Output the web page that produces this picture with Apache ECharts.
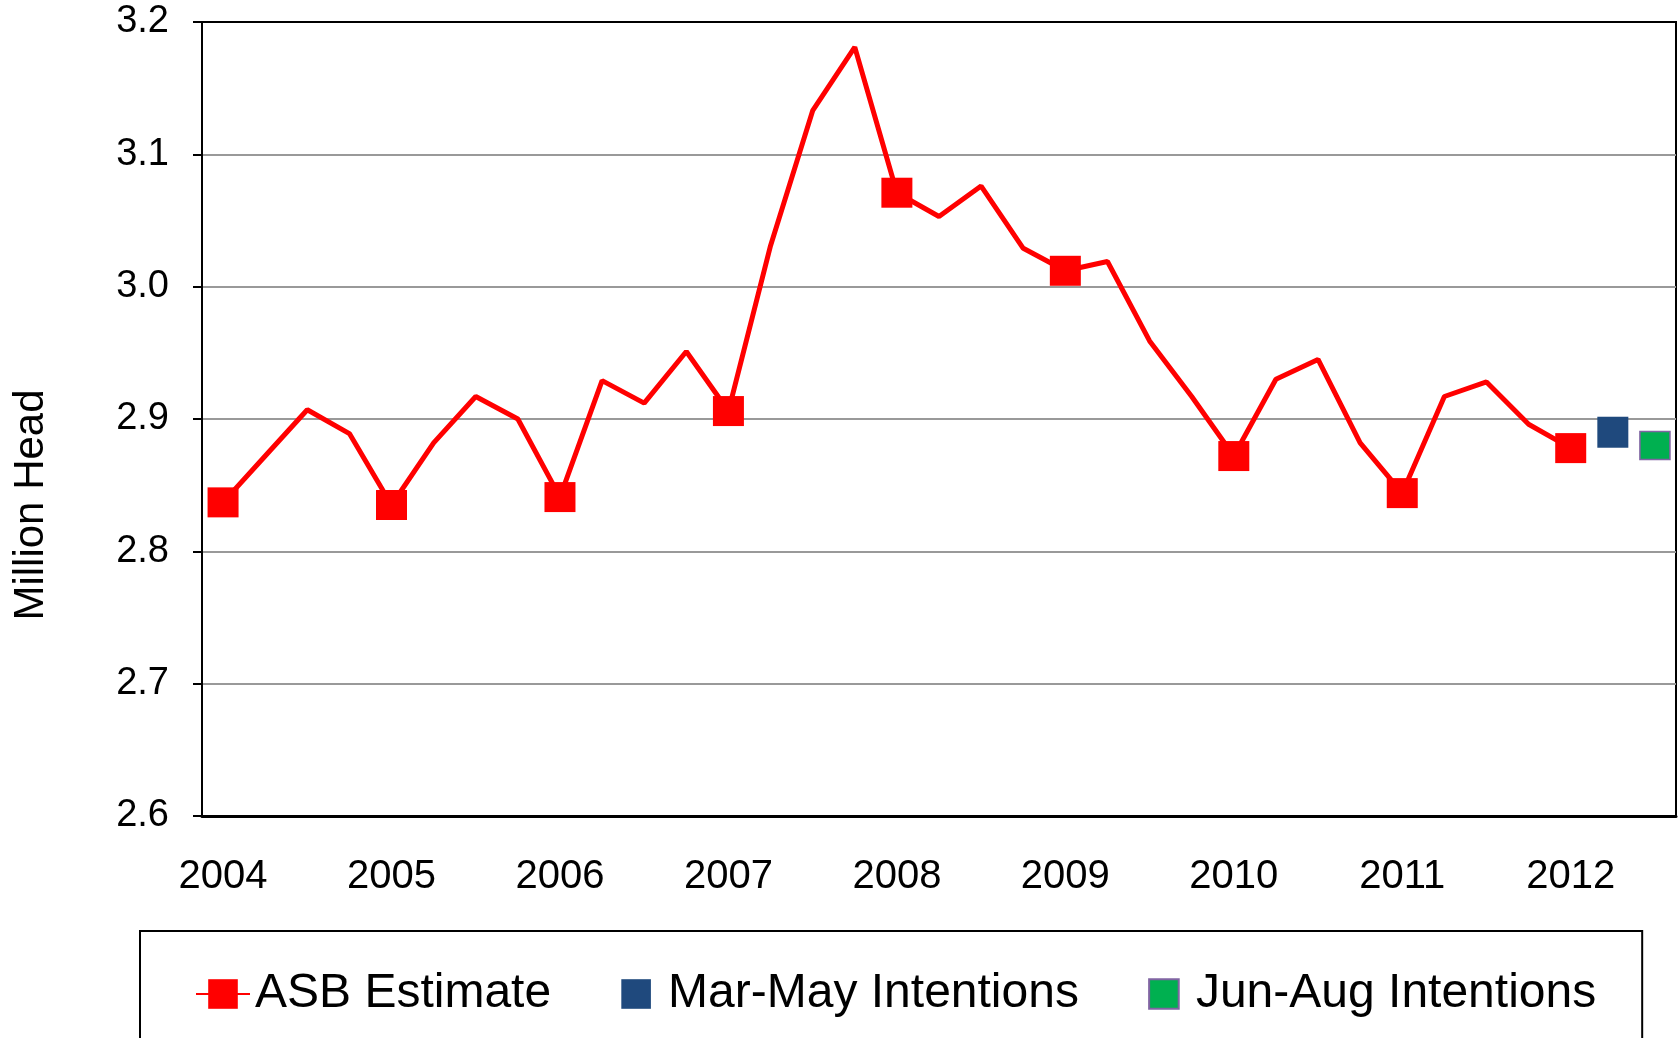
<!DOCTYPE html>
<html>
<head>
<meta charset="utf-8">
<script src="https://cdn.jsdelivr.net/npm/echarts@6/dist/echarts.min.js"></script>
<style>
  html, body { margin: 0; padding: 0; background: #fff; }
  #chart { width: 1679px; height: 1038px; }
</style>
</head>
<body>
<div id="chart"></div>
<script>
// quarterly ASB estimates 2004 Q1 .. 2012 Q1, then the two 2012 intentions surveys
const years = ['2004', '2005', '2006', '2007', '2008', '2009', '2010', '2011', '2012']
const quarters = ['Q1', 'Q2', 'Q3', 'Q4']
const extraCategories = ['Mar-May 2012', 'Jun-Aug 2012']

const asbEstimate = [
  2.837, 2.872, 2.907, 2.889,
  2.835, 2.882, 2.917, 2.900,
  2.841, 2.929, 2.912, 2.951,
  2.906, 3.031, 3.133, 3.181,
  3.071, 3.053, 3.076, 3.029,
  3.012, 3.019, 2.959, 2.917,
  2.872, 2.930, 2.945, 2.882,
  2.844, 2.917, 2.928, 2.896,
  2.878
]
const marMayIntentions = 2.890
const junAugIntentions = 2.880

const yTicks = [2.6, 2.7, 2.8, 2.9, 3.0, 3.1, 3.2]

// build category list
const categories = []
years.forEach((y) => {
  if (y === '2012') {
    categories.push(y + ' Q1')
  } else {
    quarters.forEach((q) => categories.push(y + ' ' + q))
  }
})
extraCategories.forEach((c) => categories.push(c))

const asbData = categories.map((c, i) => (i < asbEstimate.length ? asbEstimate[i] : null))
const marMayData = categories.map((c) => (c === 'Mar-May 2012' ? marMayIntentions : null))
const junAugData = categories.map((c) => (c === 'Jun-Aug 2012' ? junAugIntentions : null))

const FONT = '"Liberation Sans", Arial, sans-serif'

const chart = echarts.init(document.getElementById('chart'))

const option = {
  backgroundColor: '#fff',
  animation: false,
  textStyle: { fontFamily: FONT, color: '#000' },
  grid: {
    left: 202,
    right: 3,
    top: 22,
    bottom: 222,
    show: true,
    borderColor: '#000',
    borderWidth: 2,
    containLabel: false
  },
  graphic: [
    {
      type: 'text',
      x: 31,
      y: 505,
      rotation: Math.PI / 2,
      style: {
        text: 'Million Head',
        font: '42px ' + FONT,
        fill: '#000',
        textAlign: 'center',
        textVerticalAlign: 'middle'
      }
    }
  ],
  legend: {
    left: 140,
    top: 931,
    orient: 'horizontal',
    padding: [39, 46, 80, 55],
    borderColor: '#000',
    borderWidth: 2,
    itemWidth: 54,
    itemHeight: 37,
    itemGap: 58,
    textStyle: { fontSize: 48, fontFamily: FONT, color: '#000' },
    data: [
      { name: 'ASB Estimate', lineStyle: { width: 2 } },
      { name: 'Mar-May Intentions', lineStyle: { width: 0, opacity: 0 } },
      { name: 'Jun-Aug Intentions', lineStyle: { width: 0, opacity: 0 } }
    ]
  },
  xAxis: {
    type: 'category',
    data: categories,
    boundaryGap: true,
    axisLine: { show: true, lineStyle: { color: '#000', width: 3 } },
    axisTick: { show: false },
    axisLabel: {
      interval: (index) => index % 4 === 0 && index < asbEstimate.length,
      formatter: (v) => v.slice(0, 4),
      fontSize: 40,
      fontFamily: FONT,
      color: '#000',
      margin: 41
    },
    splitLine: { show: false }
  },
  yAxis: {
    type: 'value',
    min: yTicks[0],
    max: yTicks[yTicks.length - 1],
    interval: 0.1,
    axisLine: { show: true, lineStyle: { color: '#000', width: 2 } },
    axisTick: { show: true, inside: false, length: 9, lineStyle: { color: '#000', width: 2 } },
    axisLabel: {
      formatter: (v) => v.toFixed(1),
      fontSize: 38,
      fontFamily: FONT,
      color: '#000',
      margin: 33
    },
    splitLine: { show: true, showMaxLine: false, lineStyle: { color: '#999', width: 2 } }
  },
  series: [
    {
      name: 'ASB Estimate',
      type: 'line',
      data: asbData,
      showAllSymbol: true,
      symbol: 'rect',
      symbolSize: (val, params) => (params.dataIndex % 4 === 0 ? [31, 30] : 0),
      lineStyle: { color: '#ff0000', width: 5 },
      itemStyle: { color: '#ff0000' },
      z: 3
    },
    {
      name: 'Mar-May Intentions',
      type: 'line',
      data: marMayData,
      showAllSymbol: true,
      symbol: 'rect',
      symbolSize: [31, 31],
      lineStyle: { width: 0 },
      itemStyle: { color: '#1f497d' },
      z: 4
    },
    {
      name: 'Jun-Aug Intentions',
      type: 'line',
      data: junAugData,
      showAllSymbol: true,
      symbol: 'rect',
      symbolSize: [30, 28],
      lineStyle: { width: 0 },
      itemStyle: { color: '#00b050', borderColor: '#8064a2', borderWidth: 1.5 },
      z: 4
    }
  ]
}

chart.setOption(option)
</script>
</body>
</html>
